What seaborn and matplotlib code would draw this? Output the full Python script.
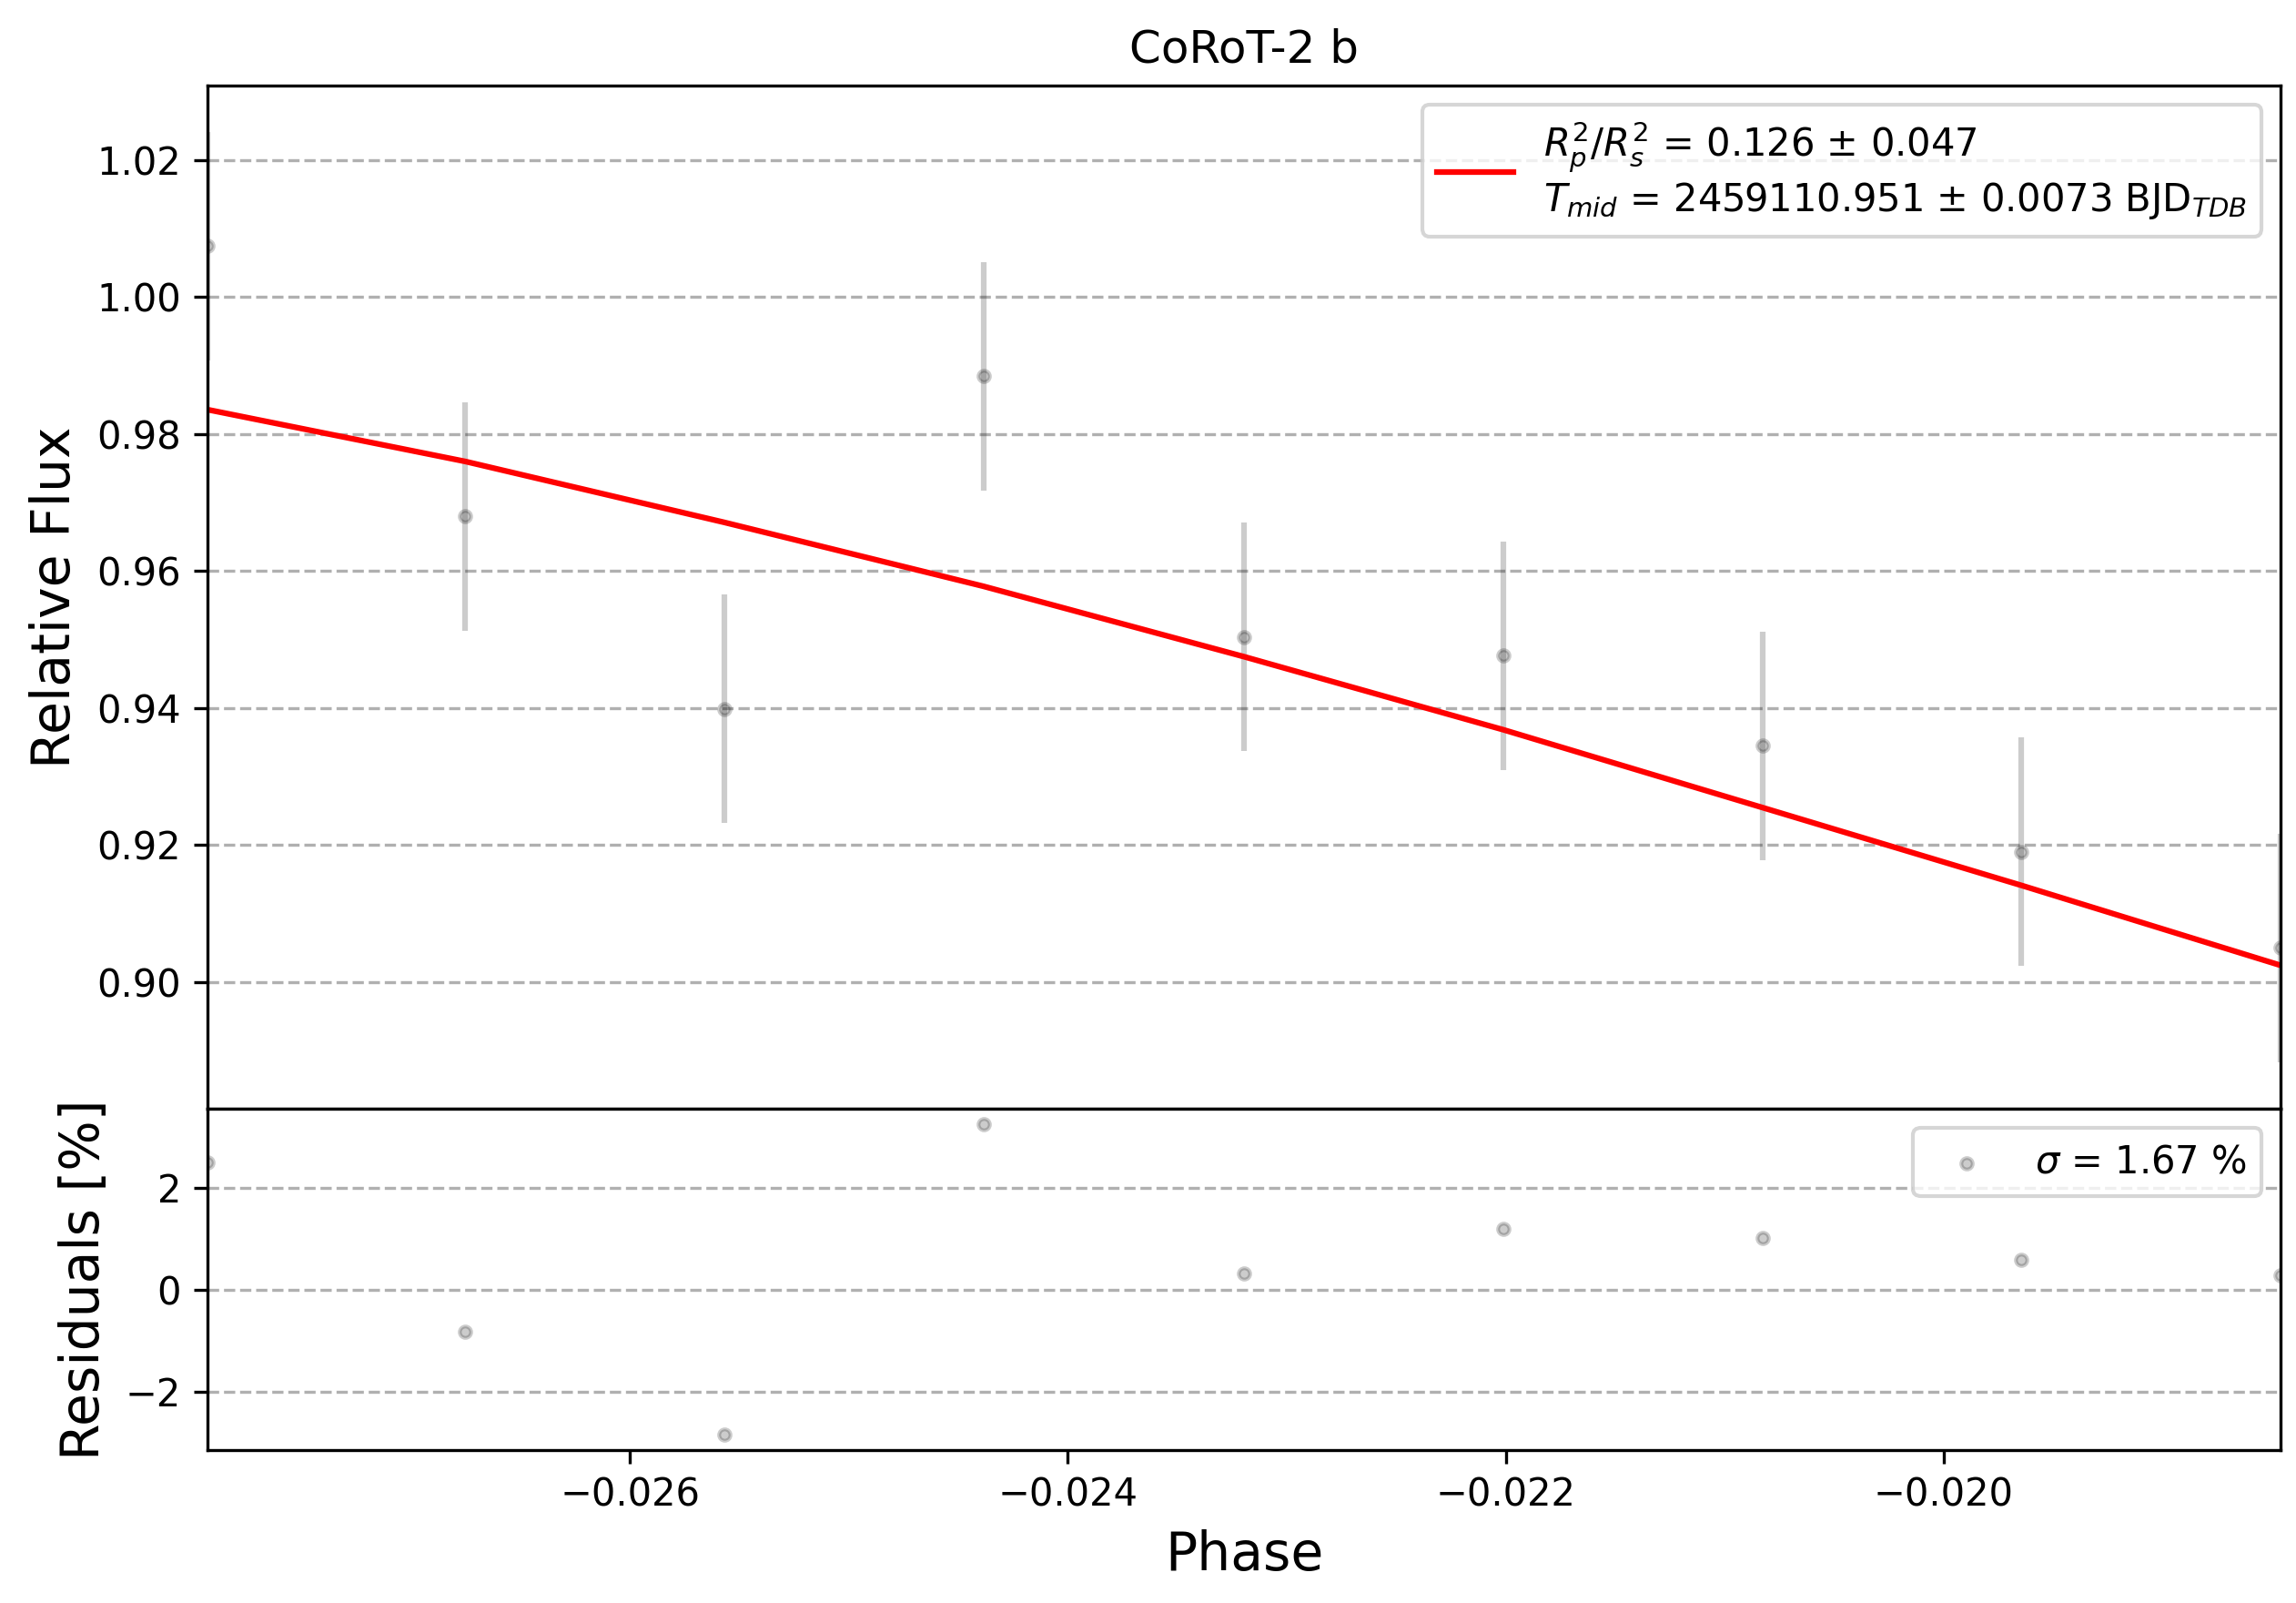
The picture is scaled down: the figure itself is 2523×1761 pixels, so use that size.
import numpy as np
import pandas as pd
import matplotlib
matplotlib.use("Agg")
import matplotlib.pyplot as plt
import seaborn as sns

# phase-folded data
phase = [-0.02793, -0.026753, -0.02557, -0.024386, -0.023195,
         -0.022011, -0.020827, -0.019644, -0.01846]
flux = [1.00742, 0.9680, 0.9399, 0.98844, 0.9504,
        0.94766, 0.93448, 0.91902, 0.90499]
flux_err = [0.01667] * 9
model = [0.98356, 0.9760, 0.96711, 0.95778, 0.94750,
         0.93684, 0.92548, 0.91412, 0.90245]
residuals = [2.50, -0.82, -2.84, 3.25, 0.32, 1.19, 1.01, 0.58, 0.29]

fit_label = (r"$R^{2}_{p}/R^{2}_{s}$ = 0.126 ± 0.047" + "\n"
             + r"$T_{mid}$ = 2459110.951 ± 0.0073 BJD$_{TDB}$")
res_label = r"$\sigma$ = 1.67 %"

df = pd.DataFrame({"phase": phase, "flux": flux, "err": flux_err,
                   "model": model, "resid": residuals})

fig, (ax, axr) = plt.subplots(
    2, 1, figsize=(2523 / 300, 1761 / 300), dpi=300, sharex=True,
    gridspec_kw={"height_ratios": [3, 1], "hspace": 0})
fig.subplots_adjust(left=0.0904, right=0.9933, top=0.9467, bottom=0.0956)

# light curve
ax.errorbar(df["phase"], df["flux"], yerr=df["err"], fmt=".",
            color="black", alpha=0.2)
sns.lineplot(data=df, x="phase", y="model", color="red", lw=1.5,
             sort=False, label=fit_label, ax=ax)
ax.set_title("CoRoT-2 b")
ax.set_ylabel("Relative Flux", fontsize=14)
ax.set_xlabel("")
ax.grid(True, axis="y", linestyle="--")
ax.tick_params(axis="x", bottom=False, labelbottom=False)
ax.legend(loc="upper right")

# residuals
sns.scatterplot(data=df, x="phase", y="resid", marker="o", s=9,
                color="black", edgecolor="black", linewidth=1.0,
                alpha=0.2, label=res_label, ax=axr)
axr.set_xlabel("Phase", fontsize=14)
axr.set_ylabel("Residuals [%]", fontsize=14)
axr.grid(True, axis="y", linestyle="--")
axr.legend(loc="upper right")
axr.set_xlim(min(phase), max(phase))

fig.savefig("out.png", dpi=300)
